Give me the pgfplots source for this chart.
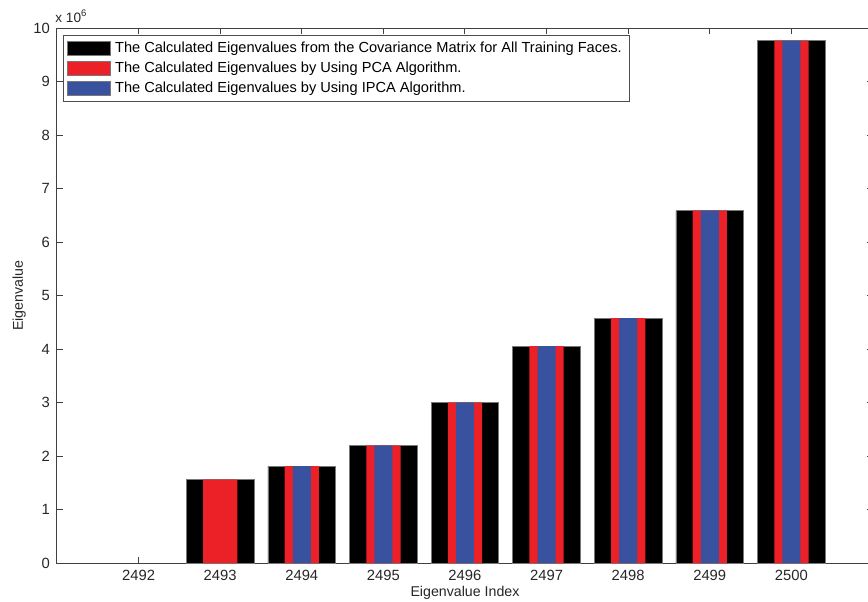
\documentclass[border=0pt]{standalone}
\usepackage{pgfplots}
\pgfplotsset{compat=1.18}
\usepackage{fontspec}
\setmainfont{Liberation Sans}

\definecolor{pcared}{RGB}{236,32,39}
\definecolor{ipcablue}{RGB}{56,82,160}
\definecolor{edgegray}{RGB}{120,120,120}

% eigenvalues in units of 10^6
\pgfplotstableread{
idx  cov    pca
2493 1.557  1.557
2494 1.812  1.812
2495 2.195  2.195
2496 3.000  3.000
2497 4.052  4.052
2498 4.578  4.578
2499 6.585  6.585
2500 9.760  9.760
}\eigtable
\pgfplotstableread{
idx  ipca
2494 1.812
2495 2.195
2496 3.000
2497 4.052
2498 4.578
2499 6.585
2500 9.760
}\ipcatable

\begin{document}
\begin{tikzpicture}
\begin{axis}[
  at={(0,0)}, anchor=south west,
  scale only axis,
  width=408pt, height=267.5pt,
  xmin=2491, xmax=2501,
  ymin=0, ymax=10,
  xtick={2492,...,2500},
  ytick={0,...,10},
  scaled ticks=false,
  /pgf/number format/assume math mode=true,
  xticklabel style={/pgf/number format/1000 sep={}},
  tick label style={font=\fontsize{7.4}{8}\selectfont, color=black!85},
  tick align=inside,
  major tick length=3pt,
  axis line style={black!75, line width=0.5pt},
  every tick/.style={black!75, line width=0.5pt},
  xlabel={Eigenvalue Index},
  ylabel={Eigenvalue},
  label style={font=\fontsize{7.1}{8}\selectfont, color=black!85},
  xlabel style={yshift=4pt},
  ylabel style={yshift=-3pt},
  legend cell align=left,
  legend style={
    at={(rel axis cs:0,1)}, anchor=north west,
    xshift=3pt, yshift=-3.5pt,
    draw=black!70, line width=0.5pt,
    font=\fontsize{7.3}{8}\selectfont,
    inner xsep=2pt, inner ysep=1pt,
    row sep=-0.8pt,
    /tikz/every even column/.append style={column sep=1pt},
  },
  legend image code/.code={
    \draw[#1, draw=edgegray, line width=0.3pt] (0pt,-3.6pt) rectangle (21.5pt,3.6pt);
  },
]
\addplot[ybar, bar shift=0pt, bar width=0.83, fill=black, draw=edgegray, line width=0.4pt]
  table[x=idx, y=cov] {\eigtable};
\addlegendentry{The Calculated Eigenvalues from the Covariance Matrix for All Training Faces.}
\addplot[ybar, bar shift=0pt, bar width=0.42, fill=pcared, draw=none]
  table[x=idx, y=pca] {\eigtable};
\addlegendentry{The Calculated Eigenvalues by Using PCA Algorithm.}
\addplot[ybar, bar shift=0pt, bar width=0.22, fill=ipcablue, draw=none]
  table[x=idx, y=ipca] {\ipcatable};
\addlegendentry{The Calculated Eigenvalues by Using IPCA Algorithm.}
\end{axis}
% exponent of the y axis
\node[anchor=south west, inner sep=0pt, font=\fontsize{6.8}{8}\selectfont, color=black!85]
  at (-1pt,270pt) {x 10\textsuperscript{6}};
\pgfresetboundingbox
\path (-28.5pt,-19pt) rectangle (405.5pt,281.5pt);
\end{tikzpicture}
\end{document}
